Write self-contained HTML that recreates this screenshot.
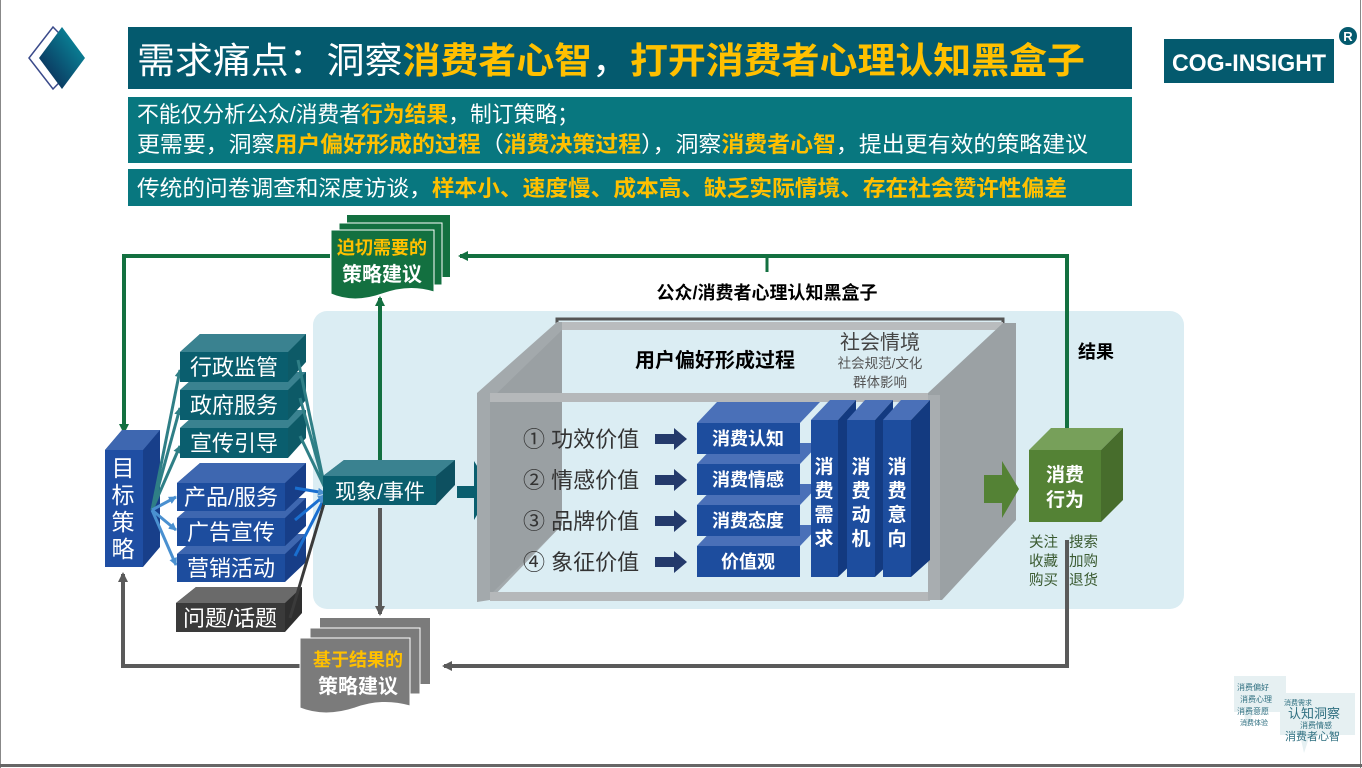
<!DOCTYPE html>
<html><head><meta charset="utf-8"><style>
html,body{margin:0;padding:0;background:#fff;}
svg{display:block;font-family:"Liberation Sans","Noto Sans CJK SC",sans-serif;}
</style></head><body>
<svg width="1362" height="768" viewBox="0 0 1362 768" xmlns="http://www.w3.org/2000/svg">
<defs>
<linearGradient id="dg" x1="1" y1="0" x2="0" y2="1"><stop offset="0" stop-color="#0a9aa8"/><stop offset="1" stop-color="#0b1f4d"/></linearGradient>
<marker id="ag" markerWidth="10" markerHeight="10" refX="8" refY="5" orient="auto" markerUnits="userSpaceOnUse"><path d="M0,0 L10,5 L0,10 Z" fill="#137040"/></marker>
<marker id="ay" markerWidth="10" markerHeight="10" refX="8" refY="5" orient="auto" markerUnits="userSpaceOnUse"><path d="M0,0 L10,5 L0,10 Z" fill="#5a5a5a"/></marker>
<marker id="at" markerWidth="8" markerHeight="8" refX="7" refY="4" orient="auto" markerUnits="userSpaceOnUse"><path d="M0,0 L8,4 L0,8 Z" fill="#2f7f86"/></marker>
<marker id="ab" markerWidth="8" markerHeight="8" refX="7" refY="4" orient="auto" markerUnits="userSpaceOnUse"><path d="M0,0 L8,4 L0,8 Z" fill="#4a90d0"/></marker>
</defs>
<rect x="0" y="0" width="1362" height="768" fill="#fff"/>
<line x1="0.5" y1="0" x2="0.5" y2="768" stroke="#888"/>
<line x1="1360.5" y1="0" x2="1360.5" y2="768" stroke="#888"/>
<line x1="0" y1="765.5" x2="1362" y2="765.5" stroke="#666" stroke-width="3"/>

<polygon points="53,27 83,58 53,89 29,58" fill="none" stroke="#3a4a8a" stroke-width="1.5"/>
<polygon points="62,27 85,58 62,89 39,58" fill="url(#dg)"/>

<rect x="128" y="27" width="1004" height="62" fill="#045a6e"/>
<text x="137" y="73" font-size="36" fill="#fff" textLength="948" lengthAdjust="spacingAndGlyphs">需求痛点：洞察<tspan fill="#ffc000" font-weight="bold">消费者心智</tspan>，<tspan fill="#ffc000" font-weight="bold">打开消费者心理认知黑盒子</tspan></text>

<rect x="128" y="97" width="1004" height="66" fill="#08777f"/>
<text x="137" y="122" font-size="22" fill="#fff" textLength="442" lengthAdjust="spacingAndGlyphs">不能仅分析公众/消费者<tspan fill="#ffc000" font-weight="bold">行为结果</tspan>，制订策略；</text>
<text x="137" y="152" font-size="22" fill="#fff" textLength="951" lengthAdjust="spacingAndGlyphs">更需要，洞察<tspan fill="#ffc000" font-weight="bold">用户偏好形成的过程</tspan>（<tspan fill="#ffc000" font-weight="bold">消费决策过程</tspan>），洞察<tspan fill="#ffc000" font-weight="bold">消费者心智</tspan>，提出更有效的策略建议</text>
<rect x="128" y="169" width="1004" height="37" fill="#08777f"/>
<text x="137" y="196" font-size="22" fill="#fff" textLength="930" lengthAdjust="spacingAndGlyphs">传统的问卷调查和深度访谈，<tspan fill="#ffc000" font-weight="bold">样本小、速度慢、成本高、缺乏实际情境、存在社会赞许性偏差</tspan></text>

<rect x="1164" y="39" width="170" height="44" fill="#045a6e"/>
<text x="1249" y="71" font-size="24" font-weight="bold" fill="#fff" text-anchor="middle" textLength="154" lengthAdjust="spacingAndGlyphs">COG-INSIGHT</text>
<circle cx="1348" cy="36" r="9" fill="#045a6e"/>
<text x="1348" y="41" font-size="13" font-weight="bold" fill="#fff" text-anchor="middle">R</text>

<rect x="313" y="311" width="871" height="298" rx="14" fill="#dbedf3"/>

<polyline points="330,256 124,256 124,432" fill="none" stroke="#137040" stroke-width="4" marker-end="url(#ag)"/>
<polyline points="1067,432 1067,256 460,256" fill="none" stroke="#137040" stroke-width="4" marker-end="url(#ag)"/>
<line x1="767" y1="256" x2="767" y2="272" stroke="#137040" stroke-width="3"/>
<polyline points="1067,540 1067,666 444,666" fill="none" stroke="#5a5a5a" stroke-width="4" marker-end="url(#ay)"/>
<polyline points="300,666 123,666 123,574" fill="none" stroke="#5a5a5a" stroke-width="4" marker-end="url(#ay)"/>
<line x1="380" y1="470" x2="380" y2="298" stroke="#137040" stroke-width="4" marker-end="url(#ag)"/>
<line x1="380" y1="508" x2="380" y2="614" stroke="#5a5a5a" stroke-width="4" marker-end="url(#ay)"/>

<rect x="347" y="215" width="103" height="62" fill="#137040"/>
<rect x="339" y="223" width="103" height="62" fill="#137040" stroke="#fff" stroke-width="1"/>
<path d="M331,230 h103 v62 q-25,-8 -52,2 q-28,10 -51,0 z" fill="#137040" stroke="#fff" stroke-width="1"/>
<text x="382" y="254" font-size="18" font-weight="bold" fill="#ffc000" text-anchor="middle">迫切需要的</text>
<text x="382" y="281" font-size="20" font-weight="bold" fill="#fff" text-anchor="middle">策略建议</text>

<rect x="320" y="618" width="110" height="66" fill="#7b7b7b"/>
<rect x="310" y="628" width="110" height="66" fill="#7b7b7b" stroke="#fff" stroke-width="1"/>
<path d="M300,638 h110 v68 q-28,-8 -55,2 q-30,10 -55,0 z" fill="#7b7b7b" stroke="#fff" stroke-width="1"/>
<text x="358" y="666" font-size="18" font-weight="bold" fill="#ffc000" text-anchor="middle">基于结果的</text>
<text x="358" y="693" font-size="20" font-weight="bold" fill="#fff" text-anchor="middle">策略建议</text>

<polygon points="105,450 122,430 160,430 160,547 143,567 143,450" fill="#183f8a"/>
<polygon points="105,450 122,430 160,430 143,450" fill="#3e67b0"/>
<rect x="105" y="450" width="38" height="117" fill="#1f4ea3"/>
<text font-size="23" fill="#fff" text-anchor="middle"><tspan x="123" y="476">目</tspan><tspan x="123" y="503">标</tspan><tspan x="123" y="530">策</tspan><tspan x="123" y="557">略</tspan></text>

<g stroke="#2f7f86" stroke-width="3">
<line x1="152" y1="510" x2="180" y2="370" marker-end="url(#at)"/>
<line x1="152" y1="510" x2="180" y2="408" marker-end="url(#at)"/>
<line x1="152" y1="510" x2="180" y2="446" marker-end="url(#at)"/>
</g>
<g stroke="#4a90d0" stroke-width="3">
<line x1="152" y1="510" x2="176" y2="497" marker-end="url(#ab)"/>
<line x1="152" y1="510" x2="176" y2="530" marker-end="url(#ab)"/>
<line x1="152" y1="510" x2="176" y2="565" marker-end="url(#ab)"/>
</g>

<!-- teal boxes, bottom first -->
<polygon points="180,428 200,410 306,410 306,438 288,458 288,428" fill="#0d5a67"/><polygon points="180,428 200,410 306,410 288,428" fill="#3a8290"/><rect x="180" y="428" width="108" height="30" fill="#0a5e6e"/>
<text x="234" y="451" font-size="22" fill="#fff" text-anchor="middle">宣传引导</text>
<polygon points="180,390 200,372 306,372 306,400 288,420 288,390" fill="#0d5a67"/><polygon points="180,390 200,372 306,372 288,390" fill="#3a8290"/><rect x="180" y="390" width="108" height="30" fill="#0a5e6e"/>
<text x="234" y="413" font-size="22" fill="#fff" text-anchor="middle">政府服务</text>
<polygon points="180,352 200,334 306,334 306,362 288,382 288,352" fill="#0d5a67"/><polygon points="180,352 200,334 306,334 288,352" fill="#3a8290"/><rect x="180" y="352" width="108" height="30" fill="#0a5e6e"/>
<text x="234" y="375" font-size="22" fill="#fff" text-anchor="middle">行政监管</text>

<!-- blue boxes bottom first -->
<polygon points="176,603 196,587 302,587 302,613 285,632 285,603" fill="#2e2e2e"/><polygon points="176,603 196,587 302,587 285,603" fill="#6a6a6a"/><rect x="176" y="603" width="109" height="29" fill="#3a3a3a"/>
<text x="230" y="626" font-size="22" fill="#fff" text-anchor="middle">问题/话题</text>
<polygon points="177,554 200,534 306,534 306,562 285,582 285,554" fill="#173e88"/><polygon points="177,554 200,534 306,534 285,554" fill="#3e67b0"/><rect x="177" y="554" width="108" height="28" fill="#1d4d9e"/>
<text x="231" y="576" font-size="22" fill="#fff" text-anchor="middle">营销活动</text>
<polygon points="177,518 200,498 306,498 306,526 285,546 285,518" fill="#173e88"/><polygon points="177,518 200,498 306,498 285,518" fill="#3e67b0"/><rect x="177" y="518" width="108" height="28" fill="#1d4d9e"/>
<text x="231" y="540" font-size="22" fill="#fff" text-anchor="middle">广告宣传</text>
<polygon points="177,483 200,463 306,463 306,491 285,511 285,483" fill="#173e88"/><polygon points="177,483 200,463 306,463 285,483" fill="#3e67b0"/><rect x="177" y="483" width="108" height="28" fill="#1d4d9e"/>
<text x="231" y="505" font-size="22" fill="#fff" text-anchor="middle">产品/服务</text>

<g stroke="#2f7f86" stroke-width="3">
<line x1="298" y1="360" x2="325" y2="488"/>
<line x1="300" y1="398" x2="325" y2="488"/>
<line x1="300" y1="436" x2="325" y2="488"/>
</g>
<g stroke="#1a6fd0" stroke-width="3">
<line x1="295" y1="488" x2="325" y2="493" marker-end="url(#ab)"/>
<line x1="295" y1="520" x2="325" y2="495" marker-end="url(#ab)"/>
<line x1="295" y1="556" x2="325" y2="497" marker-end="url(#ab)"/>
</g>
<line x1="290" y1="618" x2="325" y2="500" stroke="#3a3a3a" stroke-width="3"/>

<polygon points="323,476 344,460 455,460 455,485 436,505 436,476" fill="#0d5060"/>
<polygon points="323,476 344,460 455,460 436,476" fill="#3a8290"/>
<rect x="323" y="476" width="113" height="29" fill="#0a5e6e"/>
<text x="380" y="499" font-size="21" fill="#fff" text-anchor="middle">现象/事件</text>
<polygon points="457,486 474,486 474,461 492,490 474,520 474,498 457,498" fill="#0a5e6e"/>

<polyline points="557,330 557,319 1003,319 1003,330" fill="none" stroke="#555" stroke-width="3"/>
<text x="767" y="299" font-size="18" font-weight="bold" fill="#000" text-anchor="middle">公众/消费者心理认知黑盒子</text>
<rect x="562" y="322" width="441" height="8" fill="#b9bcbe"/>
<polygon points="477,393 557,322 562,322 562,525 490,600 477,602" fill="#a3a9ac"/>
<polygon points="490,400 562,330 562,525 490,595" fill="#9aa0a3"/>
<rect x="490" y="393" width="440" height="9" fill="#b5b8ba"/>
<rect x="490" y="592" width="440" height="9" fill="#b5b8ba"/>
<polygon points="928,393 1003,323 1016,323 1016,520 942,600 928,600" fill="#9ba1a4"/>
<polygon points="928,395 940,395 940,600 928,600" fill="#a8adb0"/>
<text x="715" y="367" font-size="20" font-weight="bold" fill="#000" text-anchor="middle">用户偏好形成过程</text>
<text x="880" y="349" font-size="20" fill="#444" text-anchor="middle">社会情境</text>
<text x="880" y="368" font-size="13.5" fill="#555" text-anchor="middle">社会规范/文化</text>
<text x="880" y="387" font-size="13.5" fill="#555" text-anchor="middle">群体影响</text>

<g font-size="22" fill="#333">
<text x="523" y="447">① 功效价值</text>
<text x="523" y="488">② 情感价值</text>
<text x="523" y="529">③ 品牌价值</text>
<text x="523" y="570">④ 象征价值</text>
</g>
<g fill="#243a6b">
<polygon points="655,434 674,434 674,428 687,439 674,450 674,444 655,444"/>
<polygon points="655,475 674,475 674,469 687,480 674,491 674,485 655,485"/>
<polygon points="655,516 674,516 674,510 687,521 674,532 674,526 655,526"/>
<polygon points="655,557 674,557 674,551 687,562 674,573 674,567 655,567"/>
</g>
<g>
<polygon points="697,546 717,525 820,525 800,546" fill="#4a70b8"/><rect x="697" y="546" width="103" height="31" fill="#1d4d9e"/>
<polygon points="697,505 717,484 820,484 800,505" fill="#4a70b8"/><rect x="697" y="505" width="103" height="31" fill="#1d4d9e"/>
<polygon points="697,464 717,443 820,443 800,464" fill="#4a70b8"/><rect x="697" y="464" width="103" height="31" fill="#1d4d9e"/>
<polygon points="697,423 717,402 820,402 800,423" fill="#4a70b8"/><rect x="697" y="423" width="103" height="31" fill="#1d4d9e"/>
</g>
<g font-size="18" font-weight="bold" fill="#fff" text-anchor="middle">
<text x="748" y="445">消费认知</text>
<text x="748" y="486">消费情感</text>
<text x="748" y="527">消费态度</text>
<text x="748" y="568">价值观</text>
</g>
<g>
<polygon points="811,420 830,400 856,400 838,420" fill="#4a70b8"/><polygon points="838,420 856,400 856,560 838,577" fill="#133a80"/><rect x="811" y="420" width="27" height="157" fill="#1d4d9e"/>
<polygon points="847,420 865,400 893,400 875,420" fill="#4a70b8"/><polygon points="875,420 893,400 893,560 875,577" fill="#133a80"/><rect x="847" y="420" width="28" height="157" fill="#1d4d9e"/>
<polygon points="883,420 901,400 930,400 911,420" fill="#4a70b8"/><polygon points="911,420 930,400 930,560 911,577" fill="#133a80"/><rect x="883" y="420" width="28" height="157" fill="#1d4d9e"/>
</g>
<g font-size="19" font-weight="bold" fill="#fff" text-anchor="middle">
<text x="824" y="473">消</text><text x="824" y="497">费</text><text x="824" y="521">需</text><text x="824" y="545">求</text>
<text x="861" y="473">消</text><text x="861" y="497">费</text><text x="861" y="521">动</text><text x="861" y="545">机</text>
<text x="897" y="473">消</text><text x="897" y="497">费</text><text x="897" y="521">意</text><text x="897" y="545">向</text>
</g>

<polygon points="984,475 1002,475 1002,461 1019,489 1002,518 1002,503 984,503" fill="#548235"/>
<polygon points="1029,450 1051,428 1123,428 1101,450" fill="#77a05a"/>
<polygon points="1101,450 1123,428 1123,500 1101,522" fill="#476d2c"/>
<rect x="1029" y="450" width="72" height="72" fill="#548235"/>
<text x="1065" y="481" font-size="19" font-weight="bold" fill="#fff" text-anchor="middle">消费</text>
<text x="1065" y="506" font-size="19" font-weight="bold" fill="#fff" text-anchor="middle">行为</text>
<text x="1096" y="358" font-size="18" font-weight="bold" fill="#000" text-anchor="middle">结果</text>
<g font-size="14.5" fill="#3a5a30">
<text x="1029" y="547">关注</text><text x="1069" y="547">搜索</text>
<text x="1029" y="566">收藏</text><text x="1069" y="566">加购</text>
<text x="1029" y="585">购买</text><text x="1069" y="585">退货</text>
</g>

<path d="M1234,676 h52 v36 h-32 l-8,16 l-2,-16 h-10 z" fill="#e6f0f2"/>
<path d="M1280,693 h75 v42 h-45 l-6,18 l-4,-18 h-20 z" fill="#e6f0f2"/>
<g fill="#2f6f80">
<text x="1237" y="690" font-size="8">消费偏好</text>
<text x="1240" y="702" font-size="8">消费心理</text>
<text x="1237" y="714" font-size="8">消费意愿</text>
<text x="1240" y="725" font-size="7">消费体验</text>
<text x="1284" y="705" font-size="7">消费需求</text>
<text x="1288" y="718" font-size="13">认知洞察</text>
<text x="1300" y="728" font-size="8">消费情感</text>
<text x="1285" y="740" font-size="11">消费者心智</text>
</g>
</svg>
</body></html>
